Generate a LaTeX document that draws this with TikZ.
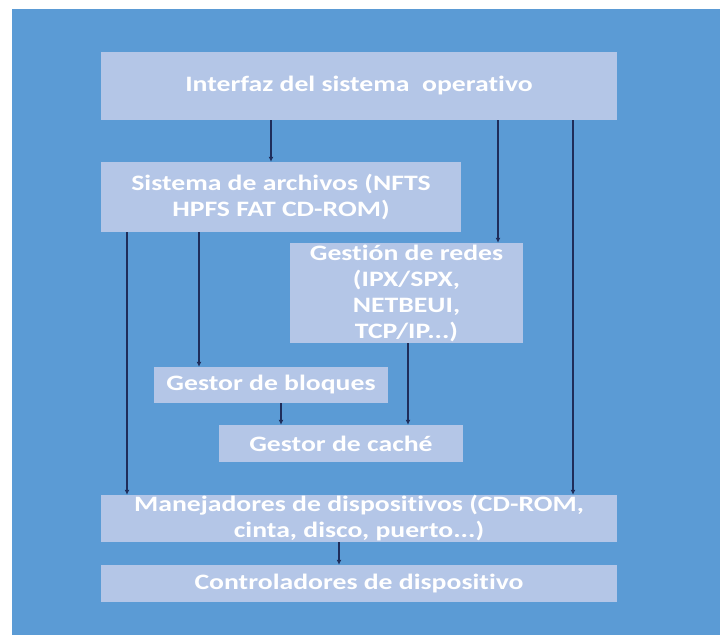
\documentclass[tikz,border=0pt]{standalone}
\usepackage{fontspec}
\setmainfont{Carlito}[FakeStretch=1.26, Ligatures=NoCommon]
\usetikzlibrary{arrows.meta}
\definecolor{bgblue}{RGB}{91,155,213}
\definecolor{boxblue}{RGB}{180,198,231}
\definecolor{navy}{RGB}{31,45,90}
\begin{document}
\begin{tikzpicture}[x=1pt, y=-1pt,
    box/.style = {fill=boxblue, text=white, inner sep=0pt, align=center, font=\bfseries\fontsize{22}{26}\selectfont},
    arr/.style = {navy, line width=1.1pt, -{Latex[length=5pt,width=5pt]}}]
    \useasboundingbox (0,0) rectangle (720,635);
    \fill[white] (0,0) rectangle (720,635);
    \fill[bgblue] (12,9) rectangle (720,635);
    \node[box, minimum width=516pt, minimum height=68pt] (iface) at (359,86) {Interfaz del sistema\ \ operativo};
    \node[box, minimum width=360pt, minimum height=70pt] (fs) at (281,197) {Sistema de archivos (NFTS\\HPFS FAT CD-ROM)};
    \node[box, minimum width=233pt, minimum height=100pt] (net) at (406.5,293) {Gestión de redes\\(IPX/SPX,\\NETBEUI,\\TCP/IP...)};
    \node[box, minimum width=234pt, minimum height=36pt] (blocks) at (271,385) {Gestor de bloques};
    \node[box, minimum width=244pt, minimum height=37pt] (cache) at (341,443.5) {Gestor de caché};
    \node[box, minimum width=516pt, minimum height=47pt] (drivers) at (359,518.5) {Manejadores de dispositivos (CD-ROM,\\cinta, disco, puerto...)};
    \node[box, minimum width=516pt, minimum height=37pt] (ctrl) at (359,583.5) {Controladores de dispositivo};
    \draw[arr] (271,0 |- iface.south) -- (271,0 |- fs.north);
    \draw[arr] (498,0 |- iface.south) -- (498,0 |- net.north);
    \draw[arr] (573,0 |- iface.south) -- (573,0 |- drivers.north);
    \draw[arr] (127,0 |- fs.south) -- (127,0 |- drivers.north);
    \draw[arr] (199,0 |- fs.south) -- (199,0 |- blocks.north);
    \draw[arr] (408,0 |- net.south) -- (408,0 |- cache.north);
    \draw[arr] (281,0 |- blocks.south) -- (281,0 |- cache.north);
    \draw[arr] (339,0 |- drivers.south) -- (339,0 |- ctrl.north);
\end{tikzpicture}
\end{document}
